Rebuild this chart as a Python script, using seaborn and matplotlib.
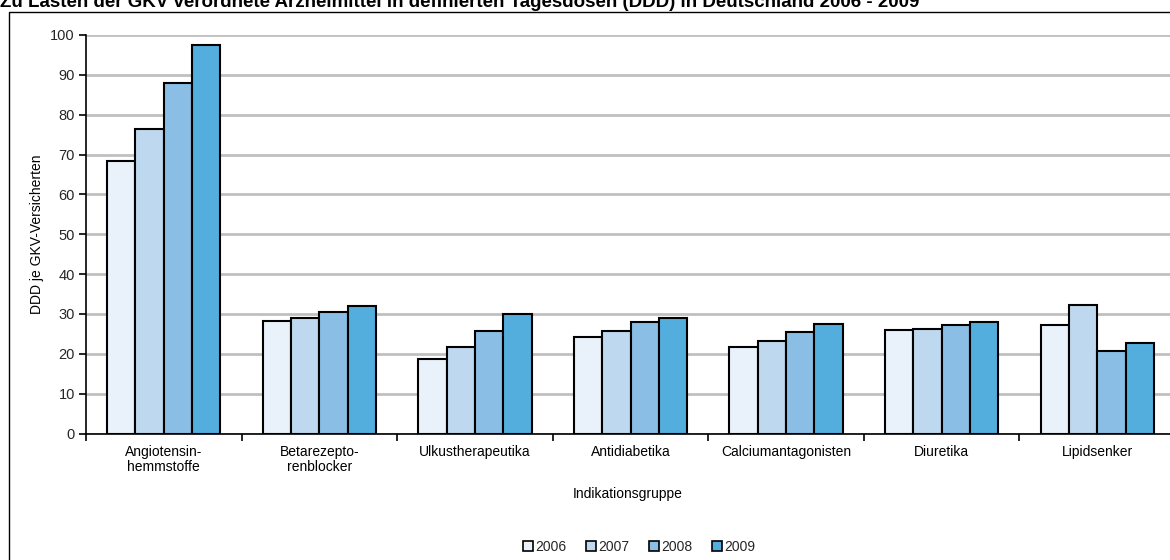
import numpy as np
import pandas as pd
import matplotlib
matplotlib.use("Agg")
import matplotlib.pyplot as plt
import seaborn as sns
from matplotlib.patches import Rectangle, Patch
from matplotlib.ticker import FixedLocator, MultipleLocator

categories = ["Angiotensin-\nhemmstoffe", "Betarezepto-\nrenblocker", "Ulkustherapeutika",
              "Antidiabetika", "Calciumantagonisten", "Diuretika", "Lipidsenker"]
years = ["2006", "2007", "2008", "2009"]
ddd_2006 = [68.4, 28.3, 18.7, 24.3, 21.8, 25.9, 27.3]
ddd_2007 = [76.3, 29.1, 21.6, 25.6, 23.1, 26.1, 32.2]
ddd_2008 = [87.9, 30.5, 25.6, 27.9, 25.5, 27.3, 20.8]
ddd_2009 = [97.5, 31.9, 29.9, 29.0, 27.6, 28.1, 22.8]
colors = ["#E9F1FA", "#BDD8EF", "#8ABEE4", "#53ADDD"]

rows = []
for yr, vals in zip(years, [ddd_2006, ddd_2007, ddd_2008, ddd_2009]):
    for cat, v in zip(categories, vals):
        rows.append({"Indikationsgruppe": cat, "Jahr": yr, "DDD": v})
df = pd.DataFrame(rows)

sns.set_theme(style="white")
plt.rcParams["font.family"] = ["Liberation Sans", "DejaVu Sans"]

W, H = 1170, 560
fig = plt.figure(figsize=(W / 100, H / 100), dpi=100)
fig.patch.set_facecolor("white")

# outer frame of the chart area
fig.add_artist(Rectangle((9 / W, -0.05), 1.2, (H - 12) / H + 0.05, transform=fig.transFigure,
                         fill=False, edgecolor="black", linewidth=1.0))

fig.text(0.0, (H - 7) / H, "Zu Lasten der GKV verordnete Arzneimittel in definierten Tagesdosen (DDD) in Deutschland 2006 - 2009",
         ha="left", va="baseline", fontsize=13.5, fontweight="bold", color="black")

left, right = 86 / W, 1175 / W
bottom, top = (H - 433.5) / H, (H - 35) / H
ax = fig.add_axes([left, bottom, right - left, top - bottom])

sns.barplot(data=df, x="Indikationsgruppe", y="DDD", hue="Jahr", hue_order=years,
            palette=colors, width=0.728, edgecolor="black", linewidth=1.5,
            saturation=1, ax=ax, legend=False, zorder=3)

ax.set_xlim(-0.5, len(categories) - 0.5)
ax.set_ylim(0, 100)
ax.yaxis.set_major_locator(MultipleLocator(10))
ax.yaxis.grid(True, color="#C0C0C0", linewidth=2.0, zorder=0)
ax.xaxis.grid(False)
ax.set_axisbelow(True)
for s in ["top", "right"]:
    ax.spines[s].set_visible(False)
for s in ["left", "bottom"]:
    ax.spines[s].set_color("black")
    ax.spines[s].set_linewidth(1.2)
    ax.spines[s].set_zorder(5)

ax.xaxis.set_minor_locator(FixedLocator(np.arange(-0.5, len(categories), 1.0)))
ax.tick_params(axis="x", which="major", length=0, pad=8, labelsize=10, colors="black")
ax.tick_params(axis="x", which="minor", length=5, width=1.2, color="black", direction="out", bottom=True)
ax.tick_params(axis="y", which="major", length=5, width=1.2, color="black", direction="out",
               left=True, labelsize=10.5, pad=3)
ax.set_xticks(range(len(categories)))
ax.set_xticklabels(categories, fontsize=10, color="black", linespacing=1.15)

ax.set_xlabel("Indikationsgruppe", fontsize=10, color="black")
ax.xaxis.set_label_coords((628 - 86) / (1175 - 86), -(487 - 433.5) / (433.5 - 35), transform=ax.transAxes)
ax.set_ylabel("DDD je GKV-Versicherten", fontsize=10, color="black")
ax.yaxis.set_label_coords((44 - 86) / (1175 - 86), 0.5, transform=ax.transAxes)

handles = [Patch(facecolor=c, edgecolor="black", linewidth=1.2) for c in colors]
fig.legend(handles, years, loc="center", bbox_to_anchor=(639 / W, (H - 547) / H), ncol=4,
           frameon=False, fontsize=10, handlelength=0.75, handleheight=0.75, handletextpad=0.15,
           columnspacing=1.4, borderpad=0)

fig.savefig("out.png", dpi=100, facecolor="white")
